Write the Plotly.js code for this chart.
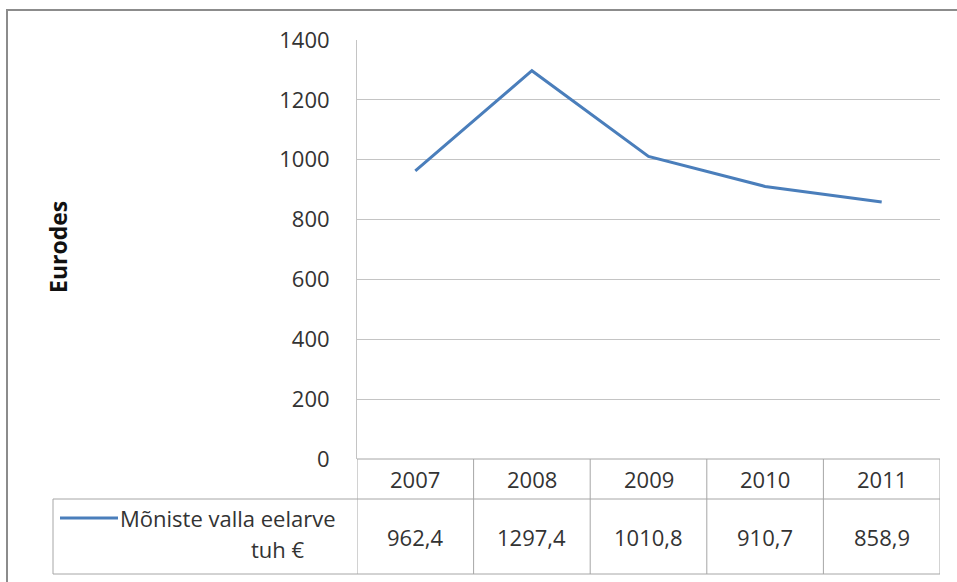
<!DOCTYPE html>
<html>
<head>
<meta charset="utf-8">
<script src="https://cdn.plot.ly/plotly-3.0.1.min.js"></script>
<style>html,body{margin:0;padding:0;background:#fff;}#chart{width:957px;height:582px;}</style>
</head>
<body>
<div id="chart"></div>
<script>
const years = ['2007', '2008', '2009', '2010', '2011'];
const budget = [962.4, 1297.4, 1010.8, 910.7, 858.9];
const seriesNameLine1 = 'Mõniste valla eelarve';
const seriesNameLine2 = 'tuh €';
const yTickValues = [0, 200, 400, 600, 800, 1000, 1200, 1400];
const yAxisTitle = 'Eurodes';

const W = 957, H = 582;
const L = 357, R = 940, T = 40, B = 459;
const pw = R - L, ph = B - T;
const px = x => (x - L) / pw;
const py = y => (B - y) / ph;

const blue = '#4A7EBB';
const txt = '#333333';
const fnt = 'Open Sans, Liberation Sans, sans-serif';
const fs = 22;
const tableLine = {color: '#a6a6a6', width: 1};

const shapes = [];
// outer frame
shapes.push({type: 'rect', xref: 'paper', yref: 'paper', x0: px(7), x1: px(970), y0: py(10), y1: py(600),
  line: {color: '#8c8c8c', width: 2}, fillcolor: 'rgba(0,0,0,0)', layer: 'below'});
// table horizontal lines
shapes.push({type: 'line', xref: 'x', yref: 'paper', x0: -0.5, x1: years.length - 0.5, y0: 0, y1: 0, line: tableLine});
shapes.push({type: 'line', xref: 'paper', yref: 'paper', x0: px(53), x1: 1, y0: py(499), y1: py(499), line: tableLine});
shapes.push({type: 'line', xref: 'paper', yref: 'paper', x0: px(53), x1: 1, y0: py(574), y1: py(574), line: tableLine});
// table vertical lines
for (let i = 0; i <= years.length; i++) {
  shapes.push({type: 'line', xref: 'x', yref: 'paper', x0: i - 0.5, x1: i - 0.5, y0: 0, y1: py(574), line: tableLine});
}
shapes.push({type: 'line', xref: 'paper', yref: 'paper', x0: px(53), x1: px(53), y0: py(499), y1: py(574), line: tableLine});
// legend key
shapes.push({type: 'line', xref: 'paper', yref: 'paper', x0: px(60), x1: px(118), y0: py(518), y1: py(518), line: {color: blue, width: 3}});

const annotations = [];
years.forEach((yr, i) => {
  annotations.push({xref: 'x', yref: 'paper', x: i, y: py(479), text: yr, showarrow: false,
    xanchor: 'center', yanchor: 'middle', font: {family: fnt, size: fs, color: txt}});
  annotations.push({xref: 'x', yref: 'paper', x: i, y: py(537), text: budget[i].toFixed(1).replace('.', ','), showarrow: false,
    xanchor: 'center', yanchor: 'middle', font: {family: fnt, size: fs, color: txt}});
});
annotations.push({xref: 'paper', yref: 'paper', x: px(118), y: py(518), text: seriesNameLine1, showarrow: false,
  xanchor: 'left', yanchor: 'middle', font: {family: fnt, size: fs, color: txt}});
annotations.push({xref: 'paper', yref: 'paper', x: px(278), y: py(549), text: seriesNameLine2, showarrow: false,
  xanchor: 'center', yanchor: 'middle', font: {family: fnt, size: fs, color: txt}});
annotations.push({xref: 'paper', yref: 'paper', x: px(58), y: py(247), text: '<b>' + yAxisTitle + '</b>', showarrow: false,
  textangle: -90, xanchor: 'center', yanchor: 'middle', font: {family: fnt, size: 23, color: '#111111'}});

const data = [{
  type: 'scatter', mode: 'lines', x: years, y: budget,
  name: seriesNameLine1 + ' ' + seriesNameLine2,
  line: {color: blue, width: 3}
}];

const layout = {
  width: W, height: H,
  margin: {l: L, r: W - R, t: T, b: H - B, pad: 0},
  paper_bgcolor: '#ffffff', plot_bgcolor: '#ffffff',
  showlegend: false,
  separators: ', ',
  xaxis: {type: 'category', range: [-0.5, years.length - 0.5], showticklabels: false, ticks: '',
    showgrid: false, zeroline: false, showline: false, fixedrange: true},
  yaxis: {range: [0, 1400], tickvals: yTickValues, ticktext: yTickValues.map(String),
    tickfont: {family: fnt, size: fs, color: txt}, ticks: '', ticklabelstandoff: 22,
    showgrid: true, gridcolor: '#c4c4c4', gridwidth: 1, zeroline: false,
    showline: true, linecolor: '#c4c4c4', linewidth: 1, fixedrange: true},
  shapes: shapes,
  annotations: annotations
};

Plotly.newPlot('chart', data, layout, {displayModeBar: false, staticPlot: true});
</script>
</body>
</html>
